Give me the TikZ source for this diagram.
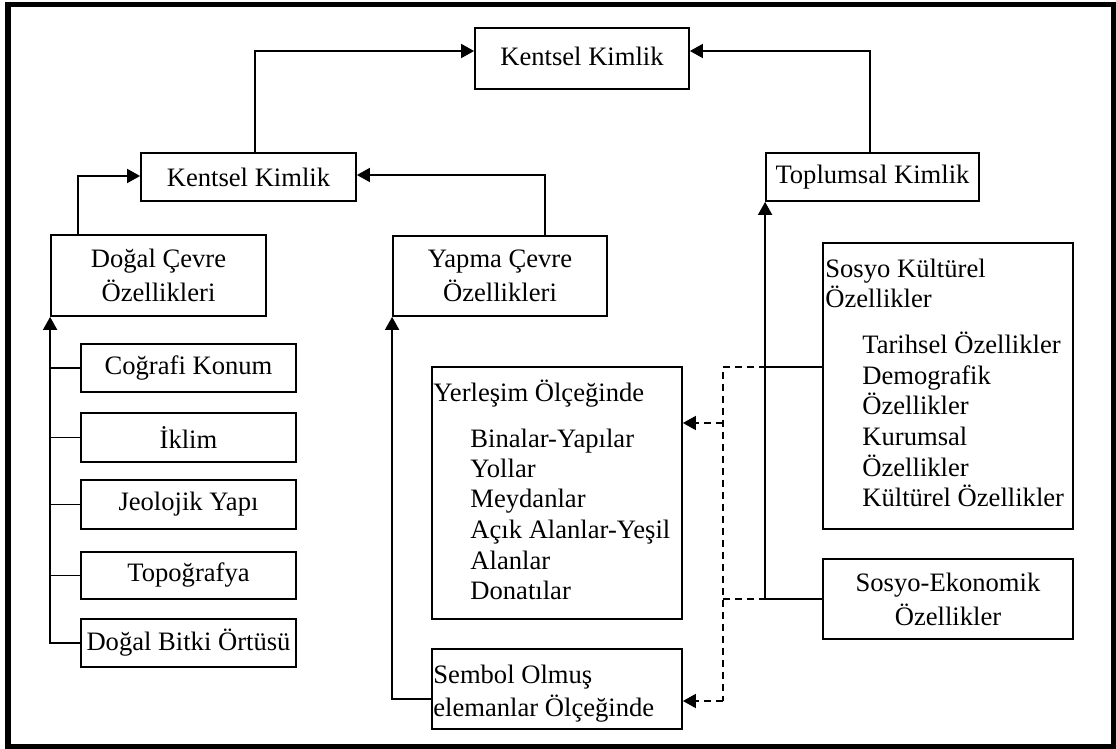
\documentclass[tikz,border=0pt]{standalone}
\usepackage{fontspec}
\setmainfont{Liberation Serif}
\usetikzlibrary{arrows.meta}
\newcommand\fsz{\fontsize{13.3pt}{15.25pt}\selectfont}
\begin{document}
\begin{tikzpicture}[x=0.5pt,y=-0.5pt,
  box/.style={draw,line width=0.9pt,inner sep=0pt,font=\fsz,align=center},
  lbl/.style={inner sep=0pt,anchor=base west,font=\fsz},
  ln/.style={line width=0.9pt},
  arr/.style={line width=0.9pt,-{Triangle[length=6.5pt,width=7pt]}},
  dsh/.style={line width=0.9pt,dash pattern=on 3.5pt off 2.5pt}]
\useasboundingbox (0,0) rectangle (1116,749);
\draw[line width=2.75pt] (8,4.5) rectangle (1113.5,746.5);

% top level
\node[box,minimum width=107pt,minimum height=30.5pt] (kk) at (582,58.5) {\raisebox{2.5pt}{Kentsel Kimlik}};
\node[box,minimum width=107.5pt,minimum height=24pt] (kk2) at (248.5,177) {Kentsel Kimlik};
\node[box,minimum width=106.5pt,minimum height=24pt] (tk) at (872.5,177) {Toplumsal Kimlik};
\node[box,minimum width=107.5pt,minimum height=40.5pt] (dc) at (158.5,275.5) {Doğal Çevre\\[1.8pt]Özellikleri};
\node[box,minimum width=107pt,minimum height=40pt] (yc) at (500,276) {Yapma Çevre\\[1.8pt]Özellikleri};

% left column
\node[box,minimum width=107.5pt,minimum height=24pt] (cog) at (188.5,368) {Coğrafi Konum};
\node[box,minimum width=107.5pt,minimum height=24.5pt] (ikl) at (188.5,437.5) {İklim};
\node[box,minimum width=107.5pt,minimum height=24.5pt] (jeo) at (188.5,504.5) {Jeolojik Yapı};
\node[box,minimum width=107.5pt,minimum height=23.5pt] (topo) at (188.5,575.5) {Topoğrafya};
\node[box,minimum width=107.5pt,minimum height=24pt] (dbo) at (188.5,643) {Doğal Bitki Örtüsü};

% middle column
\node[box,minimum width=125pt,minimum height=126pt] (yo) at (557,493) {};
\node[lbl] (yoh) at (433,401) {Yerleşim Ölçeğinde};
\node[lbl] (yo1) at (470,447) {Binalar-Yapılar};
\node[lbl] (yo2) at (470,477.5) {Yollar};
\node[lbl] (yo3) at (470,508) {Meydanlar};
\node[lbl] (yo4) at (470,538.5) {Açık Alanlar-Yeşil};
\node[lbl] (yo5) at (470,569) {Alanlar};
\node[lbl] (yo6) at (470,599.5) {Donatılar};

\node[box,minimum width=125pt,minimum height=40pt] (so) at (557,689) {};
\node[lbl] (so1) at (433,683) {Sembol Olmuş};
\node[lbl] (so2) at (433,716.5) {elemanlar Ölçeğinde};

% right column
\node[box,minimum width=125pt,minimum height=143pt] (skk) at (948,386) {};
\node[lbl] (skh1) at (825,278) {Sosyo Kültürel};
\node[lbl] (skh2) at (825,307) {Özellikler};
\node[lbl] (sk1) at (862,354) {Tarihsel Özellikler};
\node[lbl] (sk2) at (862,384.5) {Demografik};
\node[lbl] (sk3) at (862,415) {Özellikler};
\node[lbl] (sk4) at (862,445.5) {Kurumsal};
\node[lbl] (sk5) at (862,476) {Özellikler};
\node[lbl] (sk6) at (862,506.5) {Kültürel Özellikler};

\node[box,minimum width=125pt,minimum height=40pt] (sek) at (948,599) {Sosyo-Ekonomik\\[1.8pt]Özellikler};

% bend points
\coordinate (b1) at (255,51);
\coordinate (b2) at (870,51);
\coordinate (b3) at (78,176);
\coordinate (b4) at (545,175);
\coordinate (b6) at (393,699);
\coordinate (j1) at (766,367);
\coordinate (j2) at (766,599);
\coordinate (d1) at (723,367);
\coordinate (d2) at (723,701);
\coordinate (d3) at (723,423);

% solid connectors
\draw[arr] (kk2.north -| b1) |- (kk.west |- b1);
\draw[arr] (tk.north -| b2) |- (kk.east |- b2);
\draw[arr] (dc.north -| b3) |- (kk2.west |- b3);
\draw[arr] (yc.north -| b4) |- (kk2.east |- b4);

\draw[arr] (dbo.west) -| (dc.south west);
\draw[ln] (cog.west) -- (cog.west -| dc.south west);
\draw[ln] (ikl.west) -- (ikl.west -| dc.south west);
\draw[ln] (jeo.west) -- (jeo.west -| dc.south west);
\draw[ln] (topo.west) -- (topo.west -| dc.south west);

\draw[arr] (so.west |- b6) -| (yc.south west);

\draw[arr] (sek.west) -| (tk.south west);
\draw[ln] (skk.west |- j1) -- (j1);

% dashed connectors
\draw[dsh] (j1) -- (d1) -- (d2);
\draw[dsh] (j2) -- (j2 -| d1);
\draw[dsh,-{Triangle[length=6.5pt,width=7pt]}] (d2) -- (so.east |- d2);
\draw[dsh,-{Triangle[length=6.5pt,width=7pt]}] (d3) -- (yo.east |- d3);
\end{tikzpicture}
\end{document}
